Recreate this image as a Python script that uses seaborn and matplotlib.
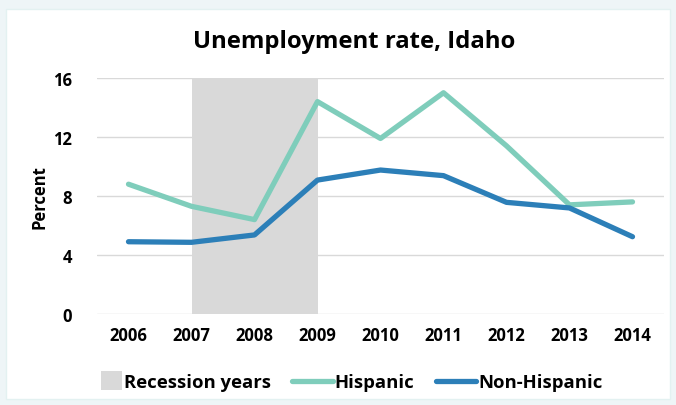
import matplotlib
matplotlib.use("Agg")
import matplotlib.pyplot as plt
import seaborn as sns
import pandas as pd
from matplotlib.patches import Patch, Rectangle
from matplotlib.lines import Line2D
from matplotlib.legend_handler import HandlerPatch

years = [2006, 2007, 2008, 2009, 2010, 2011, 2012, 2013, 2014]
hispanic = [8.8, 7.3, 6.4, 14.4, 11.9, 15.0, 11.4, 7.4, 7.6]
non_hispanic = [4.9, 4.86, 5.36, 9.08, 9.76, 9.38, 7.57, 7.19, 5.24]
recession = [2007, 2009]
yticks = [0, 4, 8, 12, 16]

sns.set_theme(style="white")
plt.rcParams['font.family'] = ['Open Sans', 'DejaVu Sans']
plt.rcParams['text.color'] = 'black'
plt.rcParams['xtick.color'] = 'black'
plt.rcParams['ytick.color'] = 'black'
plt.rcParams['axes.labelcolor'] = 'black'

df = pd.DataFrame({
    "Year": years * 2,
    "Rate": hispanic + non_hispanic,
    "Group": ["Hispanic"] * len(years) + ["Non-Hispanic"] * len(years),
})
palette = {"Hispanic": "#7fcdbb", "Non-Hispanic": "#2c7fb8"}

fig = plt.figure(figsize=(6.76, 4.06), dpi=100)
fig.patch.set_facecolor("#eef5f7")
bg = Rectangle((6 / 676, 6 / 406), 664 / 676, 390 / 406,
               transform=fig.transFigure, facecolor="white",
               edgecolor="#e3f1f1", linewidth=1, zorder=-10)
fig.patches.append(bg)

ax = fig.add_axes([97 / 676, 1 - 315 / 406, (664 - 97) / 676, (315 - 79) / 406])
ax.set_zorder(1)
ax.set_facecolor("none")
ax.axvspan(recession[0], recession[1], color="#d9d9d9", zorder=1, linewidth=0)
sns.lineplot(data=df, x="Year", y="Rate", hue="Group", palette=palette,
             linewidth=3.8, ax=ax, legend=False, zorder=3)

ax.set_xlim(2005.5, 2014.5)
ax.set_ylim(0, 16)
ax.set_yticks(yticks)
ax.set_xticks(years)
ax.set_xticklabels([str(y) for y in years], fontweight="bold", fontsize=12)
ax.set_yticklabels([str(v) for v in yticks], fontweight="bold", fontsize=12)
ax.tick_params(axis="x", length=0, pad=9)
ax.tick_params(axis="y", length=0, pad=18)
ax.grid(axis="y", color="#d9d9d9", linewidth=1, zorder=0)
ax.set_axisbelow(True)
for s in ax.spines.values():
    s.set_visible(False)
ax.set_xlabel("")
ax.set_ylabel("Percent", fontweight="bold", fontsize=12)
ax.yaxis.set_label_coords(-0.085, 0.5)

fig.text(354 / 676, 1 - 42 / 406, "Unemployment rate, Idaho", ha="center",
         va="center", fontsize=17.2, fontweight="bold")


def half_rect(legend, orig_handle, xdescent, ydescent, width, height, fontsize):
    w = width * 0.5
    return Rectangle((-xdescent + width - w, -ydescent - height * 0.2), w, height * 1.4)


handles = [Patch(facecolor="#d9d9d9", edgecolor="none"),
           Line2D([], [], color=palette["Hispanic"], linewidth=3.8, solid_capstyle="round"),
           Line2D([], [], color=palette["Non-Hispanic"], linewidth=3.8, solid_capstyle="round")]
labels = ["Recession years", "Hispanic", "Non-Hispanic"]
leg = fig.legend(handles, labels, loc="center", ncol=3,
                 bbox_to_anchor=(342 / 676, 1 - 383 / 406), frameon=False,
                 prop={"weight": "bold", "size": 13.3}, handlelength=2.2,
                 handletextpad=0.12, columnspacing=1.15,
                 handler_map={Patch: HandlerPatch(patch_func=half_rect)})

fig.savefig("out.png", dpi=100, facecolor=fig.get_facecolor())
